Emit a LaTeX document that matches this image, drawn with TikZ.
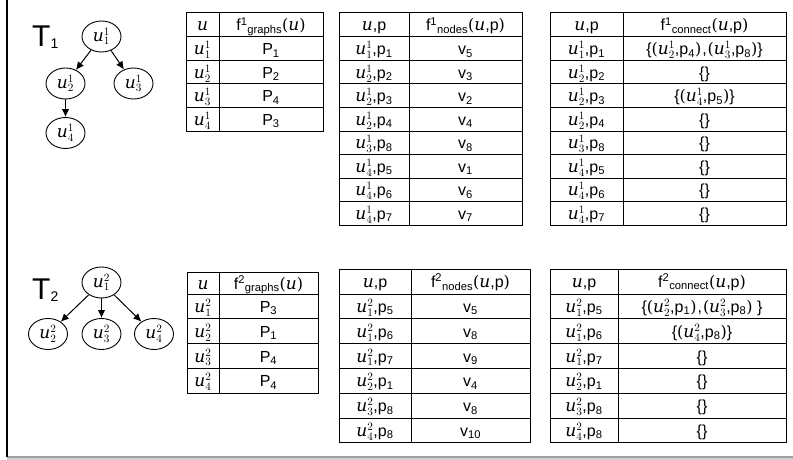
\documentclass[tikz,border=0pt]{standalone}
\usepackage{fix-cm}
\usepackage[no-math]{fontspec}
\setmainfont{Liberation Sans}
\newfontfamily\ufont{DejaVu Serif}
\usetikzlibrary{arrows.meta,shapes.geometric}
\tikzset{
 tnode/.style={draw, line width=0.9pt, ellipse, minimum width=39pt, minimum height=31pt, inner sep=0pt, font=\fontsize{16}{16}\selectfont},
 tarrow/.style={-{Latex[length=8pt,width=7.5pt]}, line width=1pt},
 gridline/.style={line width=1pt},
 cell/.style={inner sep=0pt, text height=14pt, text depth=2pt, font=\fontsize{16}{18}\selectfont},
 tlabel/.style={inner sep=0pt, anchor=base west, font=\fontsize{30}{30}\selectfont},
}
\newcommand{\ui}{\hbox{\fontsize{17}{17}\selectfont\ufont\itshape u}}
\newcommand{\lp}{{\ufont(}}
\newcommand{\rp}{{\ufont)}}
\newcommand{\lb}{\{}
\newcommand{\rb}{\}}
\newcommand{\mc}{\hspace{1pt},\hspace{1pt}}
\newcommand{\xp}[1]{p\textsubscript{#1}}
\newcommand{\xv}[1]{v\textsubscript{#1}}
\newcommand{\xP}[1]{P\textsubscript{#1}}
\newcommand{\xu}[2]{$\ui_{#1}^{#2}$}
\newcommand{\tabgrid}[7]{%
 \draw[gridline] (#1,#4) rectangle (#3,{#5+#6*#7});
 \draw[gridline] (#2,#4) -- (#2,{#5+#6*#7});
 \foreach \k in {1,...,#7} \draw[gridline] (#1,{#5+#6*(\k-1)}) -- (#3,{#5+#6*(\k-1)});
}
\newcommand{\tabrows}[6]{%
 \foreach \a/\b [count=\i] in {#6} {
  \node[cell] (#1a\i) at (#2,{#4+#5*(\i-0.5)}) {\a};
  \node[cell] (#1b\i) at (#3,{#4+#5*(\i-0.5)}) {\b};
 }
}
\begin{document}
\begin{tikzpicture}[x=1pt,y=-1pt]
\useasboundingbox (0,0) rectangle (793,460);
% frame
\draw[gray!35, line width=1.5pt] (7,459) -- (793,459);
\draw[gray!75, line width=1.6pt] (7,457.2) -- (793,457.2);
\draw[line width=1.3pt] (7,0) -- (7,457);

% ---- T1 tree
\node[tlabel] (t1) at (32,47) {T{\fontsize{14}{14}\selectfont\raisebox{-2pt}{1}}};
\node[tnode] (a1) at (101.5,36.5) {\xu11};
\node[tnode] (a2) at (65.5,83.5) {\xu21};
\node[tnode] (a3) at (133.5,83.5) {\xu31};
\node[tnode] (a4) at (65.5,133) {\xu41};
\draw[tarrow] (a1) -- (a2);
\draw[tarrow] (a1) -- (a3);
\draw[tarrow] (a2) -- (a4);

% ---- T1 graphs table
\tabgrid{186}{219}{323}{13}{37}{23.5}{4}
\node[cell] (g1h1) at (202.5,25) {\ui};
\node[cell] (g1h2) at (271,25) {f\textsuperscript{1}\textsubscript{graphs}\lp\ui\rp};
\tabrows{g1}{202.5}{271}{37}{23.5}{{\xu11}/{\xP1},{\xu21}/{\xP2},{\xu31}/{\xP4},{\xu41}/{\xP3}}

% ---- T1 nodes table
\tabgrid{339}{409}{522}{13}{37}{23.5}{8}
\node[cell] (n1h1) at (374,25) {\ui,p};
\node[cell] (n1h2) at (465.5,25) {f\textsuperscript{1}\textsubscript{nodes}\lp\ui,p\rp};
\tabrows{n1}{374}{465.5}{37}{23.5}{{\xu11,\xp1}/{\xv5},{\xu21,\xp2}/{\xv3},{\xu21,\xp3}/{\xv2},{\xu21,\xp4}/{\xv4},{\xu31,\xp8}/{\xv8},{\xu41,\xp5}/{\xv1},{\xu41,\xp6}/{\xv6},{\xu41,\xp7}/{\xv7}}

% ---- T1 connect table
\tabgrid{550}{623}{786}{13}{37}{23.5}{8}
\node[cell] (c1h1) at (586.5,25) {\ui,p};
\node[cell] (c1h2) at (704.5,25) {f\textsuperscript{1}\textsubscript{connect}\lp\ui,p\rp};
\tabrows{c1}{586.5}{704.5}{37}{23.5}{{\xu11,\xp1}/{\lb\lp\xu21,\xp4\rp\mc\lp\xu31,\xp8\rp\rb},{\xu21,\xp2}/{\lb\rb},{\xu21,\xp3}/{\lb\lp\xu41,\xp5\rp\rb},{\xu21,\xp4}/{\lb\rb},{\xu31,\xp8}/{\lb\rb},{\xu41,\xp5}/{\lb\rb},{\xu41,\xp6}/{\lb\rb},{\xu41,\xp7}/{\lb\rb}}

% ---- T2 tree
\node[tlabel] (t2) at (32,299) {T{\fontsize{14}{14}\selectfont\raisebox{-2pt}{2}}};
\node[tnode] (b1) at (101.5,282.5) {\xu12};
\node[tnode] (b2) at (48,334) {\xu22};
\node[tnode] (b3) at (101.5,334) {\xu32};
\node[tnode] (b4) at (154,334) {\xu42};
\draw[tarrow] (b1) -- (b2);
\draw[tarrow] (b1) -- (b3);
\draw[tarrow] (b1) -- (b4);

% ---- T2 graphs table
\tabgrid{187}{219}{318}{272}{294}{24.8}{4}
\node[cell] (g2h1) at (203,283) {\ui};
\node[cell] (g2h2) at (268.5,283) {f\textsuperscript{2}\textsubscript{graphs}\lp\ui\rp};
\tabrows{g2}{203}{268.5}{294}{24.8}{{\xu12}/{\xP3},{\xu22}/{\xP1},{\xu32}/{\xP4},{\xu42}/{\xP4}}

% ---- T2 nodes table
\tabgrid{339}{411}{530}{269}{294}{24.8}{6}
\node[cell] (n2h1) at (375,281.5) {\ui,p};
\node[cell] (n2h2) at (470.5,281.5) {f\textsuperscript{2}\textsubscript{nodes}\lp\ui,p\rp};
\tabrows{n2}{375}{470.5}{294}{24.8}{{\xu12,\xp5}/{\xv5},{\xu12,\xp6}/{\xv8},{\xu12,\xp7}/{\xv9},{\xu22,\xp1}/{\xv4},{\xu32,\xp8}/{\xv8},{\xu42,\xp8}/{\xv{10}}}

% ---- T2 connect table
\tabgrid{550}{618}{786}{269}{294}{24.8}{6}
\node[cell] (c2h1) at (584,281.5) {\ui,p};
\node[cell] (c2h2) at (702,281.5) {f\textsuperscript{2}\textsubscript{connect}\lp\ui,p\rp};
\tabrows{c2}{584}{702}{294}{24.8}{{\xu12,\xp5}/{\lb\lp\xu22,\xp1\rp\mc\lp\xu32,\xp8\rp\ \rb},{\xu12,\xp6}/{\lb\lp\xu42,\xp8\rp\rb},{\xu12,\xp7}/{\lb\rb},{\xu22,\xp1}/{\lb\rb},{\xu32,\xp8}/{\lb\rb},{\xu42,\xp8}/{\lb\rb}}
\end{tikzpicture}
\end{document}
